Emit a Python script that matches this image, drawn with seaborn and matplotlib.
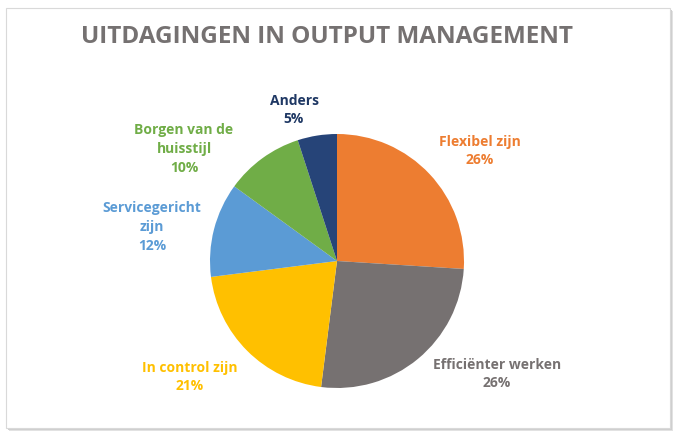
import matplotlib
matplotlib.use("Agg")
import matplotlib.pyplot as plt
from matplotlib.patches import Rectangle
import seaborn as sns

# slices, clockwise from 12 o'clock
categories = ["Flexibel zijn", "Efficiënter werken", "In control zijn",
              "Servicegericht\nzijn", "Borgen van de\nhuisstijl", "Anders"]
shares = [26, 26, 21, 12, 10, 5]
slice_colors = ["#ED7D31", "#767171", "#FFC000", "#5B9BD5", "#70AD47", "#264478"]
label_colors = ["#ED7D31", "#767171", "#FFC000", "#5B9BD5", "#70AD47", "#1F3864"]
# label centres in figure pixels (from top-left), Excel "best fit" placement
label_pos = [(480, 151), (497, 374), (190, 377), (152, 227), (184, 149), (294, 110)]

sns.set_theme(style="white")
plt.rcParams["font.family"] = ["Open Sans", "DejaVu Sans"]

W, H = 679, 441
fig = plt.figure(figsize=(W / 100, H / 100), dpi=100)
fig.patch.set_facecolor("white")

# chart frame with soft shadow
for off, col in [(3, "#e2e2e2"), (2, "#cfcfcf"), (1, "#bdbdbd")]:
    fig.patches.append(Rectangle(((6 + off) / W, 1 - (428 + off) / H), 664 / W, 420 / H,
                                 transform=fig.transFigure, facecolor=col, edgecolor="none", zorder=-3))
fig.patches.append(Rectangle((6 / W, 1 - 428 / H), 664 / W, 420 / H, transform=fig.transFigure,
                             facecolor="white", edgecolor="#d9d9d9", linewidth=0.8, zorder=-2))

fig.text(327 / W, 1 - 37 / H, "UITDAGINGEN IN OUTPUT MANAGEMENT", ha="center", va="center",
         fontsize=17.5, fontweight="bold", color="#757171")

cx, cy, r = 337, 261, 127
ax = fig.add_axes([(cx - r) / W, 1 - (cy + r) / H, 2 * r / W, 2 * r / H])
ax.set_zorder(2)
ax.patch.set_alpha(0)
ax.pie(shares, colors=slice_colors, startangle=90, counterclock=False, radius=1,
       wedgeprops=dict(edgecolor="none", linewidth=0))
ax.set_xlim(-1, 1)
ax.set_ylim(-1, 1)
ax.axis("off")

for name, val, col, (px, py) in zip(categories, shares, label_colors, label_pos):
    fig.text(px / W, 1 - py / H, f"{name}\n{val}%", ha="center", va="center",
             fontsize=10, fontweight="bold", color=col, linespacing=1.42)

fig.savefig("out.png", dpi=100)
